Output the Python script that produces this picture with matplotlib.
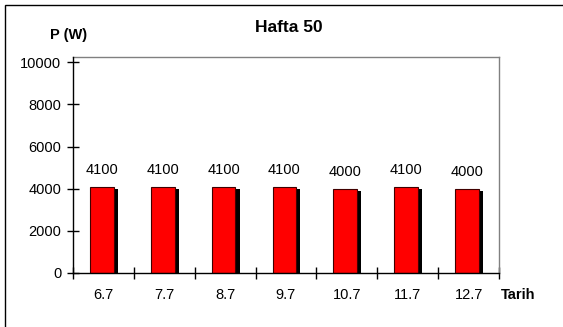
import matplotlib
matplotlib.use("Agg")
import matplotlib.pyplot as plt
import matplotlib.patheffects as pe
from matplotlib.patches import Rectangle
import numpy as np

plt.rcParams['font.family'] = ['Liberation Sans', 'DejaVu Sans']

dates = ["6.7", "7.7", "8.7", "9.7", "10.7", "11.7", "12.7"]
power = [4100, 4100, 4100, 4100, 4000, 4100, 4000]
y_ticks = [0, 2000, 4000, 6000, 8000, 10000]

W, H, DPI = 563, 327, 100
FS = 10.5
fig = plt.figure(figsize=(W / DPI, H / DPI), dpi=DPI)
fig.patch.set_facecolor("white")

# outer frame (top and left edges visible)
fig.add_artist(Rectangle((5 / W, -0.1), 1.2, (H - 5) / H + 0.1,
                         transform=fig.transFigure, fill=False,
                         edgecolor="black", linewidth=1.0))

ax = fig.add_axes([73 / W, (H - 273) / H, (499 - 73) / W, (273 - 57) / H])

x = np.arange(len(dates))
shadow = pe.SimplePatchShadow(offset=(2.9, -1.45), shadow_rgbFace="black", alpha=1.0)
ax.bar(x - 0.025, power, width=0.39, color="#ff0000", edgecolor="#400000",
       linewidth=0.8, zorder=3, path_effects=[shadow, pe.Normal()])

for xi, v in zip(x, power):
    ax.annotate(f"{v}", (xi - 0.025, v), xytext=(0, 7), textcoords="offset points",
                ha="center", va="bottom", fontsize=FS)

ax.set_xlim(-0.5, len(dates) - 0.5)
ax.set_ylim(0, 10250)
ax.set_yticks(y_ticks)
ax.set_yticklabels([str(t) for t in y_ticks], fontsize=FS)
ax.set_xticks(x)
ax.set_xticklabels(dates, fontsize=FS)
ax.set_xticks(np.arange(len(dates) + 1) - 0.5, minor=True)

ax.tick_params(axis="x", which="major", length=0, pad=10.5)
ax.tick_params(axis="x", which="minor", direction="inout", length=9, width=1.0, color="black")
ax.tick_params(axis="y", which="major", direction="inout", length=9, width=1.0, pad=4, color="black")

for s in ("left", "bottom"):
    ax.spines[s].set_color("black")
    ax.spines[s].set_linewidth(1.0)
    ax.spines[s].set_zorder(4)
for s in ("top", "right"):
    ax.spines[s].set_color("#808080")
    ax.spines[s].set_linewidth(1.0)

fig.text(289 / W, 1 - 28 / H, "Hafta 50", ha="center", va="center",
         fontsize=12.5, fontweight="bold")
fig.text(69 / W, 1 - 35 / H, "P (W)", ha="center", va="center",
         fontsize=FS, fontweight="bold")
fig.text(501 / W, 1 - 295 / H, "Tarih", ha="left", va="center",
         fontsize=FS, fontweight="bold")

fig.savefig("out.png", dpi=DPI)
